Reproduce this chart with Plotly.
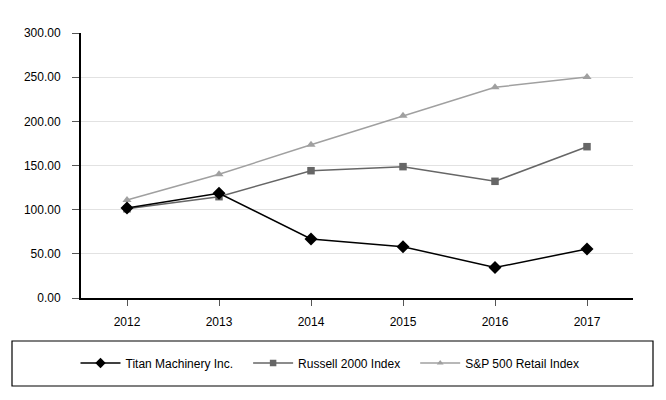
import plotly.graph_objects as go

years = ["2012", "2013", "2014", "2015", "2016", "2017"]
titan = [102.0, 118.5, 66.8, 58.1, 34.5, 55.5]
russell = [101.0, 114.7, 144.1, 148.7, 132.1, 171.3]
sp_retail = [110.9, 140.0, 173.5, 206.4, 238.5, 250.2]
y_ticks = [0, 50, 100, 150, 200, 250, 300]
names = ["Titan Machinery Inc.", "Russell 2000 Index", "S&P 500 Retail Index"]

colors = ["#000000", "#666666", "#a0a0a0"]
symbols = ["diamond", "square", "triangle-up"]
plot_sizes = [10, 7.5, 8]
legend_sizes = [8, 6.5, 6]
series = [titan, russell, sp_retail]
pads = ["\u00a0" * 3, "\u00a0" * 3, ""]

fig = go.Figure()
# draw lighter series first so Titan sits on top
for nm, vals, c, s, ps in reversed(list(zip(names, series, colors, symbols, plot_sizes))):
    fig.add_trace(go.Scatter(x=years, y=vals, name=nm, mode="lines+markers", showlegend=False,
                             line=dict(color=c, width=1.5),
                             marker=dict(symbol=s, size=ps, color=c)))
for nm, c, s, ls, p in zip(names, colors, symbols, legend_sizes, pads):
    fig.add_trace(go.Scatter(x=[None], y=[None], name=nm + p, mode="lines+markers",
                             line=dict(color=c, width=1.5),
                             marker=dict(symbol=s, size=ls, color=c)))

W, H = 658, 392
fig.update_layout(
    width=W, height=H,
    margin=dict(l=73, r=33, t=25, b=102),
    paper_bgcolor="white", plot_bgcolor="white",
    font=dict(family="Liberation Sans, Arial, sans-serif", size=12, color="#000000"),
    showlegend=True,
    legend=dict(orientation="h", xref="container", yref="container",
                x=322 / W, y=1 - 355 / H, itemwidth=40, traceorder="normal",
                xanchor="center", yanchor="middle", font=dict(size=12),
                bgcolor="rgba(0,0,0,0)", borderwidth=0),
    xaxis=dict(type="category", range=[-0.5, 5.5], showgrid=False,
               showline=True, linecolor="#000000", linewidth=2,
               ticks="outside", ticklen=6, tickcolor="#555555", tickwidth=1,
               ticklabelstandoff=6, tickfont=dict(size=12)),
    yaxis=dict(range=[0, 300], tickvals=y_ticks, tickformat=".2f",
               showgrid=True, gridcolor="#e2e2e2", gridwidth=1,
               showline=True, linecolor="#000000", linewidth=2,
               ticks="outside", ticklen=7, tickcolor="#555555", tickwidth=1,
               ticklabelstandoff=9, zeroline=False, tickfont=dict(size=12)),
    shapes=[dict(type="rect", xref="paper", yref="paper",
                 x0=(4 - 73) / 552, x1=(645 - 73) / 552,
                 y0=(290 - 378) / 265, y1=(290 - 333) / 265,
                 line=dict(color="#000000", width=1.2), fillcolor="rgba(0,0,0,0)")],
)

fig.write_html("out.html")
